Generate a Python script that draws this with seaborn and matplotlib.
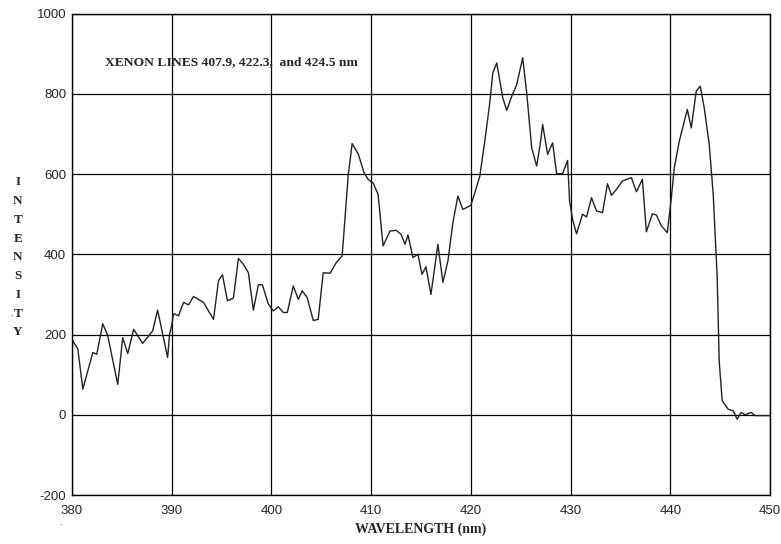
import numpy as np
import pandas as pd
import matplotlib
matplotlib.use("Agg")
import matplotlib.pyplot as plt
import seaborn as sns

# spectrum (wavelength in nm, intensity in counts)
wavelength = [
    380.0, 380.6, 381.1, 382.1, 382.5, 382.9, 383.1, 383.6, 384.6, 385.1,
    385.6, 386.2, 387.1, 388.1, 388.6, 389.6, 389.8, 390.0, 390.2, 390.7,
    391.2, 391.7, 392.2, 392.8, 393.2, 393.7, 394.2, 394.7, 395.1, 395.6,
    396.2, 396.7, 397.2, 397.7, 398.2, 398.7, 399.1, 399.7, 400.2, 400.7,
    401.2, 401.6, 402.2, 402.7, 403.1, 403.6, 404.2, 404.7, 405.2, 405.9,
    406.5, 407.1, 407.7, 408.1, 408.7, 409.3, 409.7, 410.2, 410.7, 411.2,
    411.9, 412.5, 413.0, 413.4, 413.7, 414.2, 414.7, 415.1, 415.5, 416.0,
    416.7, 417.2, 417.7, 418.2, 418.7, 419.2, 420.0, 420.4, 420.9, 421.4,
    421.9, 422.2, 422.6, 423.2, 423.6, 424.1, 424.6, 425.2, 425.6, 426.1,
    426.6, 427.0, 427.2, 427.7, 428.2, 428.6, 429.2, 429.7, 429.9, 430.2,
    430.6, 431.2, 431.6, 432.1, 432.6, 433.2, 433.7, 434.1, 434.6, 435.2,
    436.1, 436.6, 437.2, 437.6, 438.2, 438.6, 439.1, 439.7, 440.1, 440.4,
    440.9, 441.7, 442.1, 442.6, 443.0, 443.4, 443.9, 444.3, 444.7, 444.9,
    445.2, 445.8, 446.3, 446.7, 447.1, 447.5, 448.1, 448.5, 449.2, 450.0,
]
intensity = [
    188, 164, 64, 155, 151, 201, 227, 197, 76, 192,
    153, 213, 178, 209, 261, 143, 201, 222, 252, 247,
    280, 274, 295, 286, 280, 259, 238, 334, 349, 284,
    291, 390, 375, 354, 261, 324, 324, 276, 259, 269,
    255, 255, 321, 288, 309, 292, 235, 238, 354, 353,
    379, 396, 595, 676, 651, 603, 587, 578, 550, 421,
    458, 460, 450, 425, 448, 392, 400, 350, 369, 300,
    425, 330, 383, 479, 545, 512, 522, 553, 595, 682,
    778, 852, 877, 790, 759, 794, 823, 890, 803, 666,
    620, 682, 724, 649, 678, 601, 601, 634, 533, 487,
    451, 500, 493, 541, 508, 504, 576, 547, 562, 583,
    591, 556, 587, 456, 501, 498, 471, 454, 541, 616,
    682, 761, 715, 807, 819, 765, 674, 550, 342, 134,
    35, 14, 10, -11, 6, 0, 6, -2, -2, -2,
]
x_ticks = [380, 390, 400, 410, 420, 430, 440, 450]
y_ticks = [-200, 0, 200, 400, 600, 800, 1000]

df = pd.DataFrame({"wavelength": wavelength, "intensity": intensity})

sns.set_style("white")
plt.rcParams["font.family"] = ["Liberation Sans Narrow", "Liberation Sans", "DejaVu Sans"]

fig = plt.figure(figsize=(7.81, 5.44), dpi=100)
ax = fig.add_axes([0.092, 0.090, 0.894, 0.885])

sns.lineplot(data=df, x="wavelength", y="intensity", color="#222222",
             linewidth=1.0, ax=ax)

ax.set_xlim(380, 450)
ax.set_ylim(-200, 1000)
ax.set_xticks(x_ticks)
ax.set_yticks(y_ticks)
ax.set_xticklabels([str(t) for t in x_ticks], fontsize=9.5)
ax.set_yticklabels([str(t) for t in y_ticks], fontsize=9.5)
ax.tick_params(axis="y", length=0, pad=4)
ax.tick_params(axis="x", length=0, pad=7)
ax.grid(True, color="black", linewidth=0.9)
for s in ax.spines.values():
    s.set_color("black")
    s.set_linewidth(1.0)

ax.set_xlabel("WAVELENGTH (nm)", fontfamily="Liberation Serif",
              fontweight="bold", fontsize=10, labelpad=4)
ax.set_ylabel("")

# stacked vertical axis label
fig.text(0.023, 0.527, "\n".join("INTENSITY"), fontfamily="Liberation Serif",
         fontweight="bold", fontsize=9.5, ha="center", va="center",
         linespacing=1.75)
fig.text(0.015, 0.42, ".", fontsize=7, ha="center")
fig.text(0.077, 0.035, ".", fontsize=7, ha="center")

ax.text(0.047, 0.899, "XENON LINES 407.9, 422.3,  and 424.5 nm",
        transform=ax.transAxes, fontfamily="Liberation Serif",
        fontweight="bold", fontsize=9.7, va="center")

fig.savefig("out.png", dpi=100)
